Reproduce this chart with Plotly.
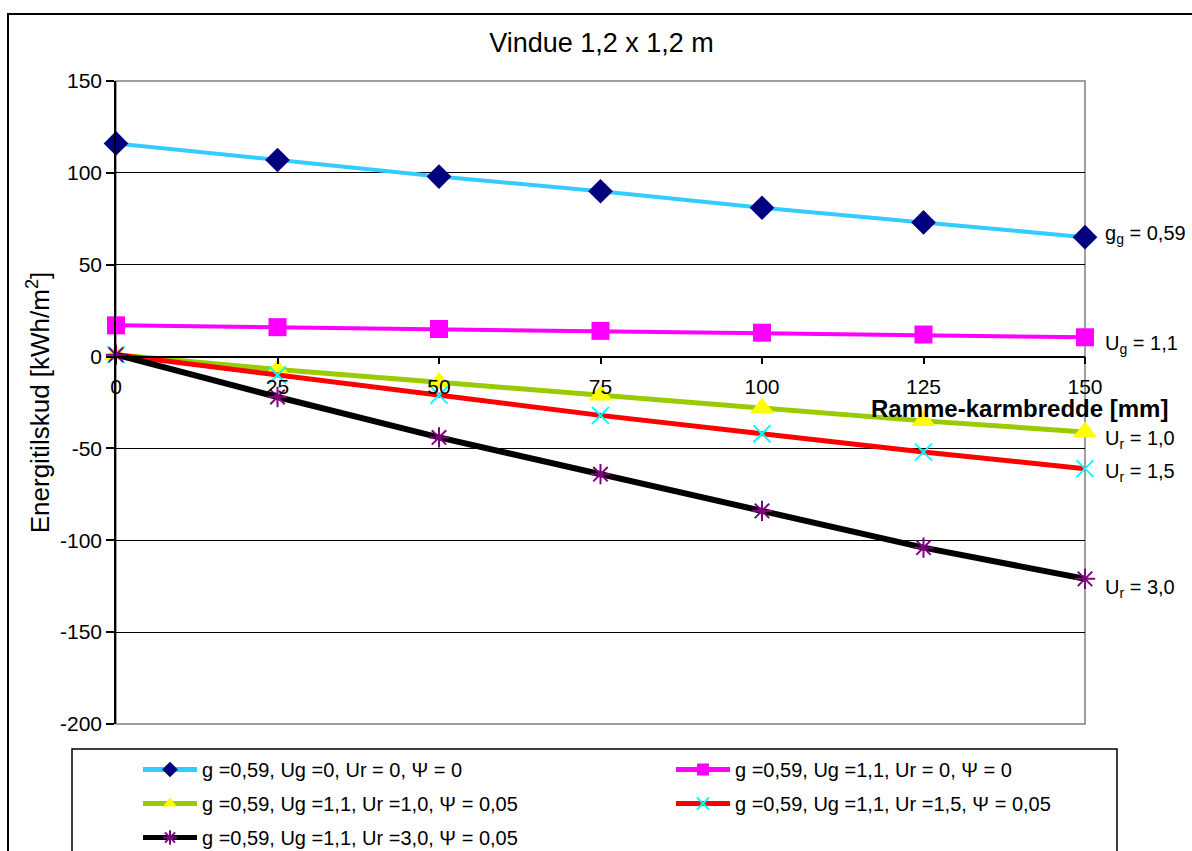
import plotly.graph_objects as go

# Frame width (mm) and energy gain (kWh/m2) per window configuration
frame_width = [0, 25, 50, 75, 100, 125, 150]

gain_g059_ug0 = [116, 107, 98, 90, 81, 73, 65]
gain_g059_ug11 = [17, 16, 15, 14, 13, 12, 10.5]
gain_ur10 = [1, -7, -14, -21, -28, -35, -41]
gain_ur15 = [1, -10, -21, -32, -42, -52, -61]
gain_ur30 = [1, -22, -44, -64, -84, -104, -121]

series_names = [
    "g =0,59, Ug =0, Ur = 0, \u03A8 = 0",
    "g =0,59, Ug =1,1, Ur = 0, \u03A8 = 0",
    "g =0,59, Ug =1,1, Ur =1,0, \u03A8 = 0,05",
    "g =0,59, Ug =1,1, Ur =1,5, \u03A8 = 0,05",
    "g =0,59, Ug =1,1, Ur =3,0, \u03A8 = 0,05",
]

end_labels = ["g<sub>g</sub> = 0,59", "U<sub>g</sub> = 1,1",
              "U<sub>r</sub> = 1,0", "U<sub>r</sub> = 1,5", "U<sub>r</sub> = 3,0"]

y_ticks = [150, 100, 50, 0, -50, -100, -150, -200]
x_ticks = [0, 25, 50, 75, 100, 125, 150]

FONT = "Liberation Sans, Arial, sans-serif"

styles = [
    dict(line=dict(color="#33CCFF", width=4),
         marker=dict(symbol="diamond", color="#000080", size=19), legend="legend"),
    dict(line=dict(color="#FF00FF", width=4),
         marker=dict(symbol="square", color="#FF00FF", size=18), legend="legend2"),
    dict(line=dict(color="#99CC00", width=5),
         marker=dict(symbol="triangle-up", color="#FFFF00", size=21), legend="legend"),
    dict(line=dict(color="#FF0000", width=5),
         marker=dict(symbol="x-thin-open", color="#00FFFF", size=17,
                     line=dict(color="#00FFFF", width=2)), legend="legend2"),
    dict(line=dict(color="#000000", width=6),
         marker=dict(symbol="asterisk-open", color="#800080", size=17,
                     line=dict(color="#800080", width=2)), legend="legend"),
]

all_series = [gain_g059_ug0, gain_g059_ug11, gain_ur10, gain_ur15, gain_ur30]

fig = go.Figure()
for i, (vals, name, st) in enumerate(zip(all_series, series_names, styles)):
    fig.add_trace(go.Scatter(
        x=frame_width, y=vals, name=name, mode="lines+markers",
        line=st["line"], marker=st["marker"], legend=st["legend"],
        legendgroup=f"g{i}", cliponaxis=False,
    ))

# Series labels at the right end of each line
label_shift = [3, -7, -8, -4, -10]
for vals, txt, dy in zip(all_series, end_labels, label_shift):
    fig.add_annotation(x=150, y=vals[-1], text=txt, showarrow=False,
                       xanchor="left", xshift=18, yshift=dy,
                       font=dict(family=FONT, size=20, color="black"))

zero_frac = (0 - y_ticks[-1]) / (y_ticks[0] - y_ticks[-1])

legend_common = dict(orientation="v", bgcolor="rgba(0,0,0,0)", borderwidth=0,
                     itemwidth=54, itemsizing="constant", tracegroupgap=5,
                     font=dict(family=FONT, size=20), yanchor="top",
                     y=-(750 - 724) / 643, xanchor="left")

fig.update_layout(
    width=1192, height=851,
    margin=dict(l=116, r=107, t=81, b=127, autoexpand=False),
    paper_bgcolor="white", plot_bgcolor="white",
    font=dict(family=FONT, size=20, color="black"),
    title=dict(text="Vindue 1,2 x 1,2 m", x=0.5046, xanchor="center",
               y=1 - 43 / 851, yanchor="middle",
               font=dict(family=FONT, size=27, color="black")),
    xaxis=dict(range=[0, 150], tickvals=x_ticks, ticktext=[str(v) for v in x_ticks],
               anchor="free", position=zero_frac, showgrid=False, zeroline=False,
               showline=True, linecolor="black", linewidth=1.5,
               ticks="outside", ticklen=7, tickcolor="black", tickwidth=1.5,
               tickfont=dict(family=FONT, size=21), ticklabelstandoff=4),
    yaxis=dict(range=[-200, 150], tickvals=y_ticks,
               ticktext=[str(v).replace("\u2212", "-") for v in y_ticks],
               showgrid=True, gridcolor="black", gridwidth=1, zeroline=False,
               showline=True, linecolor="black", linewidth=1.5,
               ticks="outside", ticklen=8, tickcolor="black", tickwidth=1.5,
               tickfont=dict(family=FONT, size=21),
               title=dict(text="Energitilskud [kWh/m<sup>2</sup>]", standoff=3,
                          font=dict(family=FONT, size=26))),
    legend=dict(x=(138 - 116) / 969, **legend_common),
    legend2=dict(x=(671 - 116) / 969, **legend_common),
    showlegend=True,
)

# Plot-area border (grey) and outer chart frame
fig.add_shape(type="rect", xref="paper", yref="paper", x0=0, x1=1, y0=0, y1=1,
              line=dict(color="#808080", width=1.5), layer="below")
fig.add_shape(type="rect", xref="paper", yref="paper",
              x0=(8 - 116) / 969, x1=1.3, y0=(724 - 14) / 643, y1=-0.5,
              line=dict(color="black", width=2), layer="below")
# Legend box
fig.add_shape(type="rect", xref="paper", yref="paper",
              x0=(72 - 116) / 969, x1=(1117 - 116) / 969,
              y0=(724 - 749) / 643, y1=-0.5,
              line=dict(color="black", width=1.5), layer="below")

# Horizontal axis title
fig.add_annotation(xref="paper", yref="paper", x=(1170 - 116) / 969,
                   y=(724 - 409) / 643, xanchor="right", yanchor="middle",
                   text="<b>Ramme-karmbredde [mm]</b>", showarrow=False,
                   font=dict(family=FONT, size=24, color="black"))

fig.write_html("out.html")
